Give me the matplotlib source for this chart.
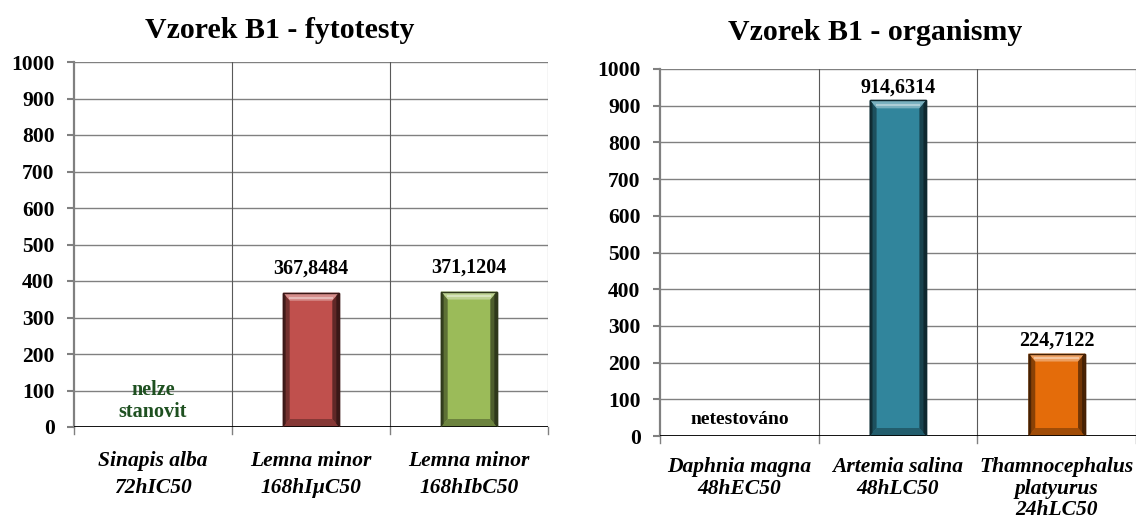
import matplotlib
matplotlib.use("Agg")
import matplotlib.pyplot as plt
from matplotlib.patches import Polygon

# data
fyto_cats = ["Sinapis alba\n72hIC50", "Lemna minor\n168hIµC50", "Lemna minor\n168hIbC50"]
fyto_vals = [0, 367.8484, 371.1204]
fyto_colors = ["#C0504D", "#C0504D", "#9BBB59"]

org_cats = ["Daphnia magna\n48hEC50", "Artemia salina\n48hLC50", "Thamnocephalus\nplatyurus\n24hLC50"]
org_vals = [0, 914.6314, 224.7122]
org_colors = ["#31859C", "#31859C", "#E46C0A"]

yticks = list(range(0, 1001, 100))

plt.rcParams['font.family'] = ['Liberation Serif', 'DejaVu Serif']
plt.rcParams['font.weight'] = 'bold'


def shade(c, f):
	r, g, b = matplotlib.colors.to_rgb(c)
	if f < 1:
		return (r*f, g*f, b*f)
	f = f - 1
	return (r+(1-r)*f, g+(1-g)*f, b+(1-b)*f)


def bevel_bar(ax, x, h, w, color, px_per_unit):
	if h <= 0:
		return
	ax.bar(x, h, w, color=color, edgecolor=shade(color, 0.35), linewidth=1.0, zorder=3)
	bx = w*0.12
	by = 8/px_per_unit
	l, r = x-w/2, x+w/2
	parts = [
		([(l, h), (r, h), (r-bx, h-by), (l+bx, h-by)], shade(color, 1.35)),
		([(l, 0), (r, 0), (r-bx, by), (l+bx, by)], shade(color, 0.7)),
		([(l, 0), (l+bx, by), (l+bx, h-by), (l, h)], shade(color, 0.6)),
		([(r, 0), (r-bx, by), (r-bx, h-by), (r, h)], shade(color, 0.5)),
	]
	for pts, c in parts:
		ax.add_patch(Polygon(pts, closed=True, facecolor=c, edgecolor='none', zorder=4))
	# darker strip at the outer edge of the sides
	ax.add_patch(Polygon([(l, 0), (l+bx*0.4, by*0.4), (l+bx*0.4, h-by*0.4), (l, h)],
		closed=True, facecolor=shade(color, 0.35), edgecolor='none', zorder=4))
	ax.add_patch(Polygon([(r, 0), (r-bx*0.4, by*0.4), (r-bx*0.4, h-by*0.4), (r, h)],
		closed=True, facecolor=shade(color, 0.3), edgecolor='none', zorder=4))
	ax.plot([l+bx, r-bx], [h-by*0.6, h-by*0.6], color=shade(color, 1.6), lw=1.5, zorder=5)
	ax.bar(x, h, w, color='none', edgecolor=shade(color, 0.3), linewidth=1.0, zorder=6)


def setup(ax, cats, xmax, lsp, pad):
	ax.set_xlim(-0.5, xmax)
	ax.set_ylim(0, 1000)
	ax.set_yticks(yticks)
	ax.set_yticklabels([str(v) for v in yticks], fontsize=15.5, fontweight='bold')
	ax.set_xticks(range(len(cats)))
	ax.set_xticklabels(cats, fontsize=15.5, fontweight='bold', style='italic', linespacing=lsp)
	ax.tick_params(axis='x', length=0, pad=pad)
	ax.tick_params(axis='y', length=5, color='#808080', width=1.5, pad=9)
	for v in yticks[1:]:
		ax.axhline(v, color='#808080', lw=1.0, zorder=1)
	for b in range(len(cats)):
		ax.axvline(b+0.5, color='#595959', lw=0.8, zorder=1)
	# small ticks below the axis at category boundaries
	for b in range(len(cats)+1):
		ax.plot([b-0.5, b-0.5], [0, -18], color='#808080', lw=1.0, clip_on=False, zorder=2)
	for s in ['top', 'right', 'bottom']:
		ax.spines[s].set_visible(False)
	ax.spines['left'].set_color('#808080')
	ax.spines['left'].set_linewidth(1.6)
	ax.axhline(0, color='black', lw=1.3, zorder=5)


fig = plt.figure(figsize=(11.36, 5.2), dpi=100)

# left chart
ax1 = fig.add_axes([74/1136, 1-427/520, (548-74)/1136, 365/520])
setup(ax1, fyto_cats, 2.5, 1.5, 17)
ppu1 = 365/1000
for i, v in enumerate(fyto_vals):
	bevel_bar(ax1, i, v, 0.355, fyto_colors[i], ppu1)
	if v > 0:
		ax1.annotate(f"{v:.4f}".replace('.', ','), (i, v), xytext=(0, 10), textcoords='offset points',
			ha='center', va='bottom', fontsize=14.5, fontweight='bold')
ax1.text(0, 72, "nelze\nstanovit", ha='center', va='center', fontsize=14.5, fontweight='bold',
	color='#1E5020', linespacing=1.15, zorder=6)
fig.text(280/1136, 1-30/520, "Vzorek B1 - fytotesty", ha='center', va='center', fontsize=21.5, fontweight='bold')

# right chart
ax2 = fig.add_axes([660/1136, 1-436/520, (1136-660)/1136, 367/520])
setup(ax2, org_cats, 2.5, 1.12, 15)
ppu2 = 367/1000
for i, v in enumerate(org_vals):
	bevel_bar(ax2, i, v, 0.355, org_colors[i], ppu2)
	if v > 0:
		ax2.annotate(f"{v:.4f}".replace('.', ','), (i, v), xytext=(0, 2), textcoords='offset points',
			ha='center', va='bottom', fontsize=14.5, fontweight='bold')
ax2.text(0, 45, "netestováno", ha='center', va='center', fontsize=14, fontweight='bold', zorder=6)
fig.text(875/1136, 1-33/520, "Vzorek B1 - organismy", ha='center', va='center', fontsize=21.5, fontweight='bold')

fig.savefig("out.png", dpi=100)
